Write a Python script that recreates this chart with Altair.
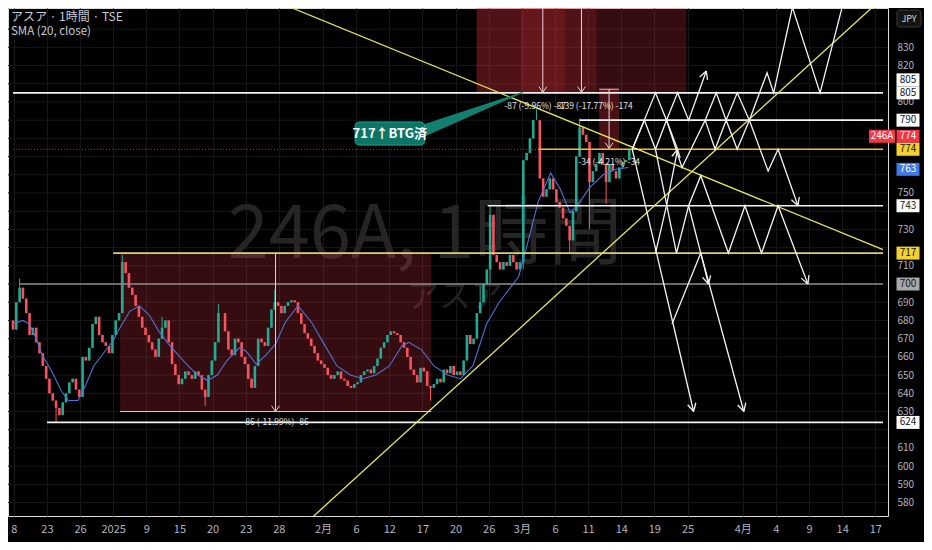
import math
import altair as alt
import pandas as pd

# ---------------- data ----------------
x_tick_days = [-9, -6, -3, 0, 3, 6, 9, 12, 15, 19, 22, 25, 28, 31, 34, 37, 40, 43, 46, 49, 52, 57, 60, 63, 66, 69]
x_tick_labels = ["8", "23", "26", "2025", "9", "15", "20", "23", "28", "2月", "6", "12", "17", "20",
                 "26", "3月", "6", "11", "14", "19", "25", "4月", "4", "9", "14", "17"]
# price labels left readable on the axis (those covered by price badges are not drawn)
y_ticks = [580, 590, 600, 610, 630, 640, 650, 660, 670, 680, 690, 710, 730, 750, 800, 820, 830]
grid_prices = list(range(580, 850, 10))

bar_start_day = -9.07
bar_step_day = 0.3
first_open = 680
closes = [
    675, 690, 698, 692, 684, 672, 676, 668, 662, 655,
    648, 640, 636, 632, 628, 635, 640, 646, 648, 642,
    638, 660, 658, 665, 678, 682, 672, 668, 666, 662,
    672, 680, 684, 712, 706, 698, 694, 688, 682, 676,
    672, 668, 664, 660, 670, 676, 680, 668, 656, 650,
    645, 648, 652, 650, 648, 652, 650, 642, 638, 650,
    658, 668, 684, 684, 674, 664, 661, 670, 668, 660,
    656, 648, 643, 655, 670, 668, 666, 676, 686, 690,
    688, 684, 688, 690, 691, 690, 684, 678, 673, 670,
    666, 662, 658, 656, 654, 650, 648, 650, 652, 648,
    647, 644, 643, 645, 646, 650, 652, 653, 651, 655,
    659, 665, 668, 672, 674, 673, 672, 668, 665, 660,
    653, 650, 646, 654, 652, 644, 643, 645, 648, 646,
    653, 651, 655, 650, 652, 650, 658, 672, 667, 670,
    684, 690, 700, 708, 738, 716, 712, 708, 712, 710,
    716, 712, 708, 712, 768, 772, 780, 790, 790, 758,
    748, 752, 758, 752, 745, 742, 736, 732, 724, 740,
    770, 786, 782, 778, 756, 762, 766, 772, 766, 756,
    766, 762, 758, 764, 767, 768, 774,
]
wick_highs = {2: 703, 33: 716, 45: 682, 62: 689, 79: 697, 141: 699, 144: 743, 158: 796, 171: 791}
wick_lows = {13: 624, 58: 633, 126: 636, 144: 700, 154: 708, 168: 717, 174: 730, 179: 744}

sma_days = [-9.07, -8.19, -7.57, -7.04, -6.43, -5.55, -4.67, -4.05, -3.17, -2.46, -1.76, -0.88, 0, 0.62,
            1.50, 2.38, 3.26, 4.14, 5.02, 5.90, 6.78, 7.66, 8.54, 9.42, 10.30, 11.44, 12.06, 12.94, 13.82,
            14.70, 15.58, 16.73, 17.96, 19.10, 20.25, 21.48, 22.62, 23.77, 25.00, 26.14, 26.76, 27.90,
            29.05, 30.28, 31.43, 32.57, 33.80, 34.95, 36.71, 37.59, 38.47, 39.61, 40.49, 41.37, 42.25,
            43.13, 44.37, 45.51, 46.65]
sma_vals = [678, 680, 678, 671, 661, 652, 641, 636, 636, 645, 655, 662, 669, 676, 685, 688, 683, 674, 667,
            661, 655, 650, 647, 650, 658, 665, 663, 656, 661, 667, 679, 688, 679, 667, 655, 650, 648, 650,
            655, 666, 668, 664, 655, 650, 648, 655, 678, 690, 704, 724, 745, 761, 752, 739, 745, 753, 760,
            763, 764]

# horizontal levels: (price, from day, to day)
levels_white = [(805, -9.07, 69.7), (790, 42.25, 69.7), (743, 33.9, 69.7), (624, -5.99, 69.7)]
levels_gold = [(774, 38.5, 69.7)]
levels_khaki = [(717, 0.0, 69.7)]
levels_gray = [(700, -8.45, 69.7)]
price_now = 774

# trend lines (day, price)
trend_lines = {
    "desc": [(16.2, 851.6), (69.7, 718.9)],
    "asc": [(17.87, 571.0), (68.66, 851.6)],
}

# scenario zigzags (day, price)
zigzags = {
    "U1": [(47.0, 774), (49.1, 805), (50.1, 790), (51.1, 805), (52.1, 790), (53.7, 817)],
    "U2": [(47.0, 774), (48.1, 790), (49.1, 774), (50.1, 790), (51.1, 774)],
    "U3": [(53.6, 790), (54.6, 805), (55.5, 790), (56.5, 805), (57.6, 790)],
    "U4": [(50.1, 790), (51.5, 764), (53.6, 790), (54.5, 774), (55.5, 790), (56.5, 774), (57.6, 790)],
    "U5": [(57.6, 790), (59.2, 816), (59.8, 805), (61.5, 852), (64.0, 805), (66.0, 852)],
    "U6": [(57.6, 790), (59.3, 762), (60.2, 774), (62.0, 743)],
    "L1": [(47.0, 774), (52.55, 630)],
    "L2": [(49.1, 774), (51.0, 717), (52.1, 743), (53.2, 759.5), (55.7, 717), (57.2, 743), (58.7, 717),
           (60.2, 743), (62.9, 700)],
    "L4": [(50.6, 678), (53.2, 717), (57.1, 630)],
    "L6": [(49.1, 717), (50.1, 743), (51.1, 774)],
    "L9": [(52.1, 743), (53.2, 717), (53.9, 700)],
}
arrow_paths = ["U1", "U6", "L1", "L2", "L4", "L6", "L9"]

# measure boxes
lower_box = (0.62, 28.8, 630, 717)
top_boxes = [(32.9, 51.9), (32.9, 43.75), (36.9, 40.9)]
top_box_prices = (805.3, 852)
small_box = (44.0, 45.8, 774, 807)
measure_arrows = [(14.7, 717, 630), (38.9, 852, 805.3), (42.4, 852, 805.3), (44.9, 807, 774.5)]
measure_texts = [("-87 (-9.96%) -87", 38.2, 798), ("-139 (-17.77%) -174", 43.6, 798),
                 ("-34 (-4.21%) -34", 44.9, 767), ("-86 (-11.99%) -86", 14.7, 624)]

# callout
callout_text = "717↑BTG済"
callout_box = (21.9, 28.2, 776.3, 789.0)
callout_pointer = [(28.0, 780.5, 787.5), (37.1, 805.0, 805.6)]

# price badges on the axis: (price, text, style, stack offset)
badges = [(805, "805", "white", -13), (805, "805", "white", 0), (790, "790", "white", 0),
          (774, "774", "red", -13), (774, "774", "yellow", 0), (763, "763", "blue", 0),
          (743, "743", "white", 0), (717, "717", "yellow", 0), (700, "700", "gray", 0),
          (624, "624", "white", 0)]

# ---------------- layout / styles ----------------
W, H = 880, 508
X0, X1 = -9.07, 69.7
Y0, Y1 = 572.6, 851.6
SX = W / (X1 - X0)
SY = H / (Y1 - Y0)
UP, DN = "#22ab94", "#f7525f"
BG = "#000000"
FONT = "Noto Sans CJK JP"
GRID = "#171717"
badge_style = {"white": ("#ffffff", "#131722"), "red": ("#f23645", "#ffffff"),
               "yellow": ("#f5d130", "#131722"), "blue": ("#3f7ae8", "#ffffff"),
               "gray": ("#a8a8a8", "#131722")}

XS = alt.Scale(domain=[X0, X1], nice=False, zero=False)
YS = alt.Scale(domain=[Y0, Y1], nice=False, zero=False)

label_expr = ""
for d, lab in zip(x_tick_days, x_tick_labels):
    label_expr += f"datum.value == {d} ? '{lab}' : "
label_expr += "''"

x_axis = alt.Axis(values=x_tick_days, labelExpr=label_expr, grid=True, gridColor=GRID,
                  domain=False, ticks=False, labelColor="#b2b5be", labelFontSize=11, labelPadding=7,
                  labelFlush=False, labelOverlap=False, title=None, labelFont=FONT)
y_axis = alt.Axis(orient="right", values=y_ticks, grid=False, domain=False,
                  ticks=False, labelColor="#b2b5be", labelFontSize=10, labelPadding=9,
                  labelOverlap=False, title=None, labelFont=FONT, labelAlign="left")


def X(f="t"):
    return alt.X(f"{f}:Q", scale=XS, axis=x_axis, title=None)


def Y(f="p"):
    return alt.Y(f"{f}:Q", scale=YS, axis=y_axis, title=None)


one = pd.DataFrame({"a": [0]})

# candles
rows = []
prev = first_open
for k, c in enumerate(closes):
    o = prev
    hi = max(o, c, wick_highs.get(k, -1))
    lo = min(o, c, wick_lows.get(k, 10 ** 6))
    rows.append(dict(t=bar_start_day + k * bar_step_day, open=o, close=c, high=hi, low=lo))
    prev = c
candles = pd.DataFrame(rows)
col = alt.condition("datum.close >= datum.open", alt.value(UP), alt.value(DN))

layers = []

# axes carrier (invisible) + horizontal grid
layers.append(alt.Chart(candles).mark_point(opacity=0).encode(x=X(), y=Y("close")))
gp = pd.DataFrame({"p": grid_prices})
layers.append(alt.Chart(gp).mark_rule(color=GRID, strokeWidth=1).encode(y=Y()))

# watermark
layers.append(alt.Chart(one).mark_text(text="246A, 1時間", fontSize=74, color="#252525", font=FONT)
              .encode(x=alt.value(417), y=alt.value(228)))
layers.append(alt.Chart(one).mark_text(text="アスア", fontSize=32, color="#222222", font=FONT)
              .encode(x=alt.value(447), y=alt.value(289)))

# lower measure box
lb = pd.DataFrame([dict(t=lower_box[0], t2=lower_box[1], p=lower_box[2], p2=lower_box[3])])
layers.append(alt.Chart(lb).mark_rect(color="#f23645", opacity=0.22, clip=True)
              .encode(x=X(), x2="t2", y=Y(), y2="p2"))
layers.append(alt.Chart(lb).mark_rule(color="#d8c8c8", strokeWidth=1.2, clip=True)
              .encode(x=X(), x2="t2", y=Y()))

# top red boxes
for (a, b), op in zip(top_boxes, [0.22, 0.14, 0.14]):
    tb = pd.DataFrame([dict(t=a, t2=b, p=top_box_prices[0], p2=top_box_prices[1])])
    layers.append(alt.Chart(tb).mark_rect(color="#f23645", opacity=op, clip=True)
                  .encode(x=X(), x2="t2", y=Y(), y2="p2"))
sb = pd.DataFrame([dict(t=small_box[0], t2=small_box[1], p=small_box[2], p2=small_box[3])])
layers.append(alt.Chart(sb).mark_rect(color="#f23645", opacity=0.3, clip=True)
              .encode(x=X(), x2="t2", y=Y(), y2="p2"))
layers.append(alt.Chart(sb).mark_rule(color="#f0b8c0", strokeWidth=1, clip=True)
              .encode(x=X(), x2="t2", y=Y("p2")))

# candles
layers.append(alt.Chart(candles).mark_rule(strokeWidth=1, clip=True)
              .encode(x=X(), y=Y("low"), y2="high", color=col))
layers.append(alt.Chart(candles).mark_bar(size=2.6, clip=True)
              .encode(x=X(), y=Y("open"), y2="close", color=col))

# SMA
sma = pd.DataFrame({"t": sma_days, "p": sma_vals})
layers.append(alt.Chart(sma).mark_line(color="#5272d6", strokeWidth=1.1, clip=True)
              .encode(x=X(), y=Y()))

# price line (dotted)
pl = pd.DataFrame([dict(t=X0, t2=X1, p=price_now)])
layers.append(alt.Chart(pl).mark_rule(color="#f23645", strokeDash=[1, 2], strokeWidth=1, opacity=0.8)
              .encode(x=X(), x2="t2", y=Y()))


def level_layer(lv, color, width=1.6):
    df = pd.DataFrame([dict(p=p, t=a, t2=b) for p, a, b in lv])
    return alt.Chart(df).mark_rule(color=color, strokeWidth=width, clip=True).encode(x=X(), x2="t2", y=Y())


layers.append(level_layer(levels_gray, "#8c8c8c", 1.4))
layers.append(level_layer(levels_khaki, "#ddd07a", 1.6))
layers.append(level_layer(levels_gold, "#f2bd2c", 1.6))
layers.append(level_layer(levels_white, "#f2f2f2", 1.6))

# trend lines
tr = pd.DataFrame([dict(path=k, seq=i, t=t, p=p) for k, pts in trend_lines.items()
                   for i, (t, p) in enumerate(pts)])
layers.append(alt.Chart(tr).mark_line(color="#e8e85a", strokeWidth=1.3, clip=True)
              .encode(x=X(), y=Y(), detail="path:N", order="seq:Q"))


def head(t0, p0, t1, p1, L=9, ang=28):
    vx = (t1 - t0) * SX
    vy = (p1 - p0) * SY
    n = math.hypot(vx, vy)
    ux, uy = vx / n, vy / n
    out = []
    for s in (1, -1):
        a = math.radians(ang) * s
        rx = ux * math.cos(a) - uy * math.sin(a)
        ry = ux * math.sin(a) + uy * math.cos(a)
        out.append(dict(t=t1, p=p1, t2=t1 - rx * L / SX, p2=p1 - ry * L / SY))
    return out


# zigzags
zz = pd.DataFrame([dict(path=k, seq=i, t=t, p=p) for k, pts in zigzags.items()
                   for i, (t, p) in enumerate(pts)])
layers.append(alt.Chart(zz).mark_line(color="#f4f4f4", strokeWidth=1.3, clip=True)
              .encode(x=X(), y=Y(), detail="path:N", order="seq:Q"))
heads = []
for k in arrow_paths:
    (t0, p0), (t1, p1) = zigzags[k][-2], zigzags[k][-1]
    heads += head(t0, p0, t1, p1)
layers.append(alt.Chart(pd.DataFrame(heads)).mark_rule(color="#f4f4f4", strokeWidth=1.3, clip=True)
              .encode(x=X(), x2="t2", y=Y(), y2="p2"))

# measure arrows
ma = pd.DataFrame([dict(t=t, p=a, p2=b) for t, a, b in measure_arrows])
layers.append(alt.Chart(ma).mark_rule(color="#e8d4d6", strokeWidth=1, clip=True)
              .encode(x=X(), y=Y(), y2="p2"))
mh = []
for t, a, b in measure_arrows:
    mh += head(t, a, t, b, L=7, ang=35)
layers.append(alt.Chart(pd.DataFrame(mh)).mark_rule(color="#e8d4d6", strokeWidth=1, clip=True)
              .encode(x=X(), x2="t2", y=Y(), y2="p2"))
mt = pd.DataFrame([dict(txt=s, t=t, p=p) for s, t, p in measure_texts])
layers.append(alt.Chart(mt).mark_text(color="#e6e6e6", fontSize=8.5, font=FONT)
              .encode(x=X(), y=Y(), text="txt:N"))

# callout
cp = pd.DataFrame([dict(t=t, p=a, p2=b) for t, a, b in callout_pointer])
layers.append(alt.Chart(cp).mark_area(color="#12806f", clip=True).encode(x=X(), y=Y(), y2="p2"))
cb = pd.DataFrame([dict(t=callout_box[0], t2=callout_box[1], p=callout_box[2], p2=callout_box[3])])
layers.append(alt.Chart(cb).mark_rect(color="#0d7565", stroke="#1fa58f", strokeWidth=1, cornerRadius=4)
              .encode(x=X(), x2="t2", y=Y(), y2="p2"))
ct = pd.DataFrame([dict(t=(callout_box[0] + callout_box[1]) / 2, p=(callout_box[2] + callout_box[3]) / 2,
                        txt=callout_text)])
layers.append(alt.Chart(ct).mark_text(color="#ffffff", fontSize=13, fontWeight="bold", font=FONT)
              .encode(x=X(), y=Y(), text="txt:N"))

# legend text
layers.append(alt.Chart(one).mark_text(text="アスア · 1時間 · TSE", fontSize=12, color="#c8cbd3",
                                       align="left", baseline="top", font=FONT)
              .encode(x=alt.value(3), y=alt.value(4)))
layers.append(alt.Chart(one).mark_text(text="SMA (20, close)", fontSize=11.5, color="#c8cbd3",
                                       align="left", baseline="top", font=FONT)
              .encode(x=alt.value(3), y=alt.value(18)))

# badges
for p, txt, style, off in badges:
    bgc, fgc = badge_style[style]
    bd = pd.DataFrame([dict(p=p, txt=txt)])
    layers.append(alt.Chart(bd).mark_tick(orient="horizontal", size=23, thickness=13, color=bgc,
                                          opacity=1, yOffset=off)
                  .encode(x=alt.value(900), y=Y()))
    layers.append(alt.Chart(bd).mark_text(color=fgc, fontSize=10, font=FONT, yOffset=off)
                  .encode(x=alt.value(900), y=Y(), text="txt:N"))
    if style == "red":
        layers.append(alt.Chart(bd).mark_tick(orient="horizontal", size=26, thickness=13, color=bgc,
                                              opacity=1, yOffset=off)
                      .encode(x=alt.value(874), y=Y()))
        layers.append(alt.Chart(pd.DataFrame([dict(p=p, txt="246A")]))
                      .mark_text(color=fgc, fontSize=10, font=FONT, yOffset=off)
                      .encode(x=alt.value(874), y=Y(), text="txt:N"))

# JPY button
layers.append(alt.Chart(one).mark_rect(color="#141414", stroke="#3a3a3a", strokeWidth=1, cornerRadius=3)
              .encode(x=alt.value(889), x2=alt.value(913), y=alt.value(2), y2=alt.value(19)))
layers.append(alt.Chart(one).mark_text(text="JPY", fontSize=9, color="#d1d4dc", font=FONT)
              .encode(x=alt.value(901), y=alt.value(10.5)))

chart = alt.layer(*layers).properties(
    width=W, height=H, background=BG, autosize="none",
    padding={"left": 0, "top": 0, "right": 36, "bottom": 26},
).configure_view(strokeWidth=0).configure(font=FONT)

chart.save("out.html", embed_options={"renderer": "svg", "actions": False})
